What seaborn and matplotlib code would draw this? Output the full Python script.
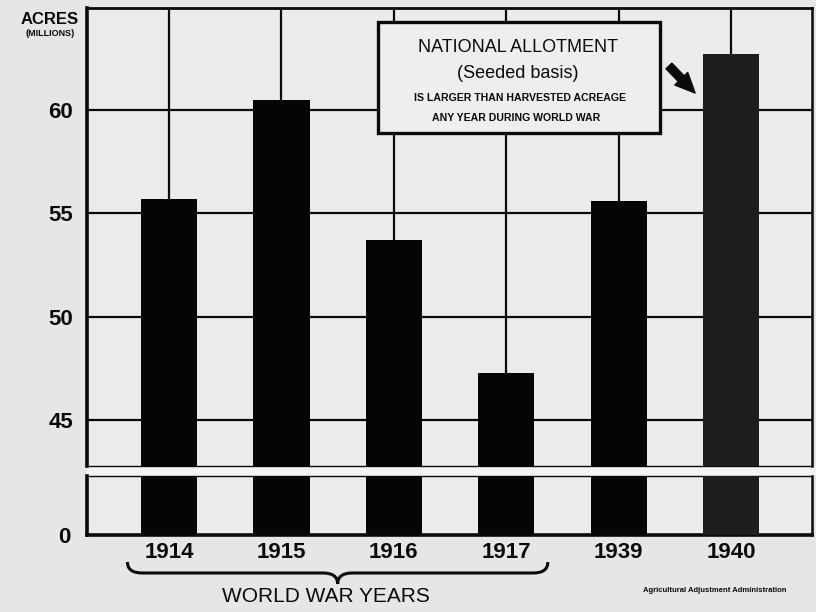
import matplotlib.pyplot as plt
import matplotlib.patches as mpatches
from matplotlib.path import Path
from matplotlib import transforms
import pandas as pd
import seaborn as sns

# Wheat acreage, millions of acres
years = ['1914', '1915', '1916', '1917', '1939', '1940']
acres = [55.7, 60.5, 53.7, 47.3, 55.6, 62.7]
bar_colors = ['#050505', '#050505', '#050505', '#050505', '#050505', '#1e1e1e']
y_ticks = [45, 50, 55, 60]
war_years = ['1914', '1915', '1916', '1917']

box_lines = ['NATIONAL ALLOTMENT', '(Seeded basis)',
             'IS LARGER THAN HARVESTED ACREAGE', 'ANY YEAR DURING WORLD WAR']

sns.set_style('white')
plt.rcParams['font.family'] = ['Liberation Sans', 'DejaVu Sans']
plt.rcParams['text.color'] = '#0a0a0a'
plt.rcParams['xtick.color'] = '#0a0a0a'
plt.rcParams['ytick.color'] = '#0a0a0a'
plt.rcParams['axes.labelcolor'] = '#0a0a0a'
narrow = ['Liberation Sans Narrow', 'DejaVu Sans Condensed', 'Liberation Sans']

W, H = 816, 612
bg = '#e6e6e6'
panel = '#ebebeb'


def fx(px):
    return px / W


def fy(py):
    return 1 - py / H


df = pd.DataFrame({'year': years, 'acres': acres})

fig = plt.figure(figsize=(W / 100, H / 100), dpi=100, facecolor=bg)
ax_top = fig.add_axes([fx(87), fy(466), fx(812) - fx(87), fy(8) - fy(466)])
ax_bot = fig.add_axes([fx(87), fy(535), fx(812) - fx(87), fy(476) - fy(535)])

# whitish band where the scale is broken
fig.add_artist(mpatches.Rectangle((fx(87), fy(476)), 1 - fx(87), fy(466) - fy(476),
                                  transform=fig.transFigure, facecolor='#f4f4f4',
                                  edgecolor='none', zorder=-1))

for ax in (ax_top, ax_bot):
    sns.barplot(data=df, x='year', y='acres', hue='year', palette=bar_colors,
                legend=False, width=0.5, saturation=1, linewidth=0, ax=ax, zorder=3)
    ax.set_facecolor(panel)
    ax.set_xlim(-0.73, 5.72)
    ax.set_xlabel('')
    ax.set_ylabel('')
    for s in ax.spines.values():
        s.set_color('#0a0a0a')

# upper panel: the broken-scale part
ax_top.set_ylim(42.78, 64.93)
ax_top.set_yticks(y_ticks)
ax_top.set_yticklabels([str(v) for v in y_ticks], fontsize=16, fontweight='bold',
                       family=narrow)
ax_top.tick_params(axis='y', length=0, pad=10)
ax_top.tick_params(axis='x', length=0, labelbottom=False)
ax_top.set_axisbelow(True)
ax_top.grid(True, color='#0a0a0a', lw=1.6)
ax_top.spines['left'].set_linewidth(2.6)
ax_top.spines['top'].set_linewidth(2.0)
ax_top.spines['right'].set_linewidth(1.8)
ax_top.spines['bottom'].set_linewidth(1.0)

# lower panel: from zero up to the break
ax_bot.set_ylim(0, 2.85)
ax_bot.set_yticks([0])
ax_bot.set_yticklabels(['0'], fontsize=16, fontweight='bold', family=narrow)
ax_bot.tick_params(axis='y', length=9, width=2.6, pad=3, color='#0a0a0a')
ax_bot.tick_params(axis='x', length=0, pad=5)
for lab in ax_bot.get_xticklabels():
    lab.set_fontsize(16)
    lab.set_fontweight('bold')
    lab.set_family(narrow)
ax_bot.spines['left'].set_linewidth(2.6)
ax_bot.spines['bottom'].set_linewidth(2.6)
ax_bot.spines['right'].set_linewidth(1.8)
ax_bot.spines['top'].set_linewidth(1.0)

# axis unit label
fig.text(fx(50), fy(19), 'ACRES', ha='center', va='center', fontsize=12,
         fontweight='bold', family=narrow)
fig.text(fx(50), fy(33), '(MILLIONS)', ha='center', va='center', fontsize=6.5,
         fontweight='bold')

# annotation box
fig.add_artist(mpatches.Rectangle((fx(378), fy(133)), fx(660) - fx(378), fy(22) - fy(133),
                                  transform=fig.transFigure, facecolor='#eeeeee',
                                  edgecolor='#0a0a0a', lw=2.4, zorder=4))
fig.text(fx(518), fy(48), box_lines[0], ha='center', va='center', fontsize=13, zorder=5)
fig.text(fx(518), fy(73), box_lines[1], ha='center', va='center', fontsize=13, zorder=5)
fig.text(fx(520), fy(98), box_lines[2], ha='center', va='center', fontsize=7.6,
         fontweight='bold', zorder=5)
fig.text(fx(516), fy(118), box_lines[3], ha='center', va='center', fontsize=7.6,
         fontweight='bold', zorder=5)
fig.add_artist(mpatches.FancyArrowPatch((fx(667), fy(64)), (fx(697), fy(95)),
                                        transform=fig.transFigure,
                                        arrowstyle='simple,head_length=1.1,head_width=1.0,tail_width=0.45',
                                        mutation_scale=13, color='#0a0a0a', zorder=5))

# brace under the World War years
tr = transforms.blended_transform_factory(ax_bot.transData, fig.transFigure)
x0 = years.index(war_years[0]) - 0.37
x1 = years.index(war_years[-1]) + 0.37
xm = (x0 + x1) / 2
c = 0.13
ya, yb, yc = fy(562), fy(573), fy(584)
verts = [(x0, ya), (x0, yb), (x0 + c, yb), (xm - c, yb), (xm, yb), (xm, yc),
         (xm, yb), (xm + c, yb), (x1 - c, yb), (x1, yb), (x1, ya)]
codes = [Path.MOVETO, Path.CURVE3, Path.CURVE3, Path.LINETO, Path.CURVE3, Path.CURVE3,
         Path.CURVE3, Path.CURVE3, Path.LINETO, Path.CURVE3, Path.CURVE3]
fig.add_artist(mpatches.PathPatch(Path(verts, codes), transform=tr, fill=False,
                                  edgecolor='#0a0a0a', lw=2.2))
fig.text(fx(326), fy(596), 'WORLD WAR YEARS', ha='center', va='center', fontsize=15)
fig.text(fx(715), fy(590), 'Agricultural Adjustment Administration', ha='center',
         va='center', fontsize=5.5, fontweight='bold')

fig.savefig('out.png', dpi=100, facecolor=bg)
